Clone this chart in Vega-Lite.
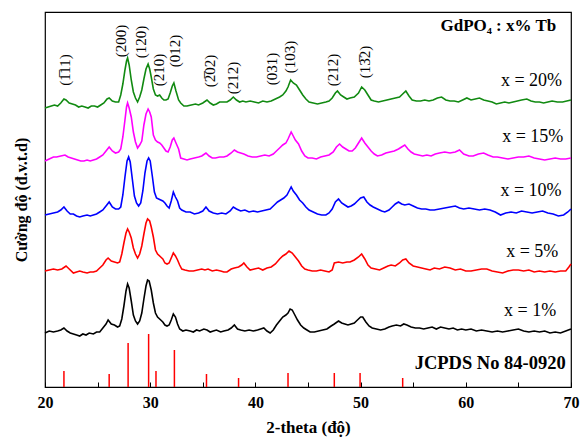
{
"$schema": "https://vega.github.io/schema/vega-lite/v6.json",
"width": 526, "height": 375,
"autosize": "none",
"padding": {"left": 45, "top": 12, "right": 9, "bottom": 50},
"background": "white",
"config": {"view": {"stroke": "black", "strokeWidth": 1.2}, "text": {"font": "Liberation Serif", "color": "black"}},
"datasets": {
"s20": [{"t":20.0,"y":279},{"t":20.3,"y":280},{"t":20.6,"y":281},{"t":20.9,"y":282},{"t":21.2,"y":281},{"t":21.5,"y":284},{"t":21.8,"y":288},{"t":22.0,"y":287},{"t":22.3,"y":284},{"t":22.6,"y":283},{"t":22.9,"y":282},{"t":23.2,"y":280},{"t":23.5,"y":281},{"t":23.8,"y":280},{"t":24.1,"y":279},{"t":24.4,"y":281},{"t":24.7,"y":281},{"t":25.0,"y":280},{"t":25.3,"y":282},{"t":25.6,"y":284},{"t":25.9,"y":288},{"t":26.1,"y":289},{"t":26.4,"y":286},{"t":26.7,"y":285},{"t":27.0,"y":285},{"t":27.2,"y":292},{"t":27.4,"y":303},{"t":27.6,"y":317},{"t":27.75,"y":326},{"t":27.85,"y":329},{"t":28.0,"y":322},{"t":28.2,"y":307},{"t":28.4,"y":295},{"t":28.6,"y":289},{"t":28.8,"y":285},{"t":29.0,"y":290},{"t":29.2,"y":297},{"t":29.4,"y":308},{"t":29.6,"y":318},{"t":29.8,"y":323},{"t":29.95,"y":318},{"t":30.1,"y":310},{"t":30.3,"y":298},{"t":30.5,"y":292},{"t":30.7,"y":291},{"t":30.9,"y":292},{"t":31.1,"y":289},{"t":31.3,"y":287},{"t":31.5,"y":287},{"t":31.7,"y":288},{"t":31.9,"y":294},{"t":32.1,"y":301},{"t":32.25,"y":304},{"t":32.45,"y":296},{"t":32.7,"y":287},{"t":32.9,"y":284},{"t":33.2,"y":281},{"t":33.5,"y":281},{"t":33.9,"y":282},{"t":34.3,"y":283},{"t":34.6,"y":282},{"t":35.0,"y":284},{"t":35.4,"y":287},{"t":35.7,"y":284},{"t":36.0,"y":282},{"t":36.3,"y":283},{"t":36.6,"y":285},{"t":37.0,"y":285},{"t":37.3,"y":285},{"t":37.6,"y":287},{"t":37.9,"y":290},{"t":38.2,"y":287},{"t":38.5,"y":285},{"t":38.8,"y":286},{"t":39.1,"y":285},{"t":39.5,"y":286},{"t":39.9,"y":285},{"t":40.3,"y":284},{"t":40.7,"y":286},{"t":41.1,"y":285},{"t":41.5,"y":286},{"t":41.9,"y":288},{"t":42.3,"y":290},{"t":42.6,"y":292},{"t":42.9,"y":296},{"t":43.1,"y":300},{"t":43.35,"y":307},{"t":43.6,"y":304},{"t":43.9,"y":302},{"t":44.2,"y":297},{"t":44.5,"y":292},{"t":44.8,"y":288},{"t":45.1,"y":285},{"t":45.5,"y":284},{"t":45.9,"y":283},{"t":46.3,"y":284},{"t":46.7,"y":285},{"t":47.0,"y":286},{"t":47.3,"y":289},{"t":47.6,"y":294},{"t":47.8,"y":296},{"t":48.1,"y":292},{"t":48.4,"y":290},{"t":48.7,"y":288},{"t":49.0,"y":289},{"t":49.4,"y":290},{"t":49.8,"y":294},{"t":50.1,"y":300},{"t":50.4,"y":297},{"t":50.7,"y":292},{"t":51.0,"y":287},{"t":51.3,"y":286},{"t":51.7,"y":285},{"t":52.1,"y":286},{"t":52.5,"y":287},{"t":52.9,"y":288},{"t":53.3,"y":289},{"t":53.7,"y":290},{"t":54.0,"y":293},{"t":54.3,"y":296},{"t":54.6,"y":291},{"t":54.9,"y":287},{"t":55.3,"y":286},{"t":55.7,"y":286},{"t":56.1,"y":287},{"t":56.5,"y":286},{"t":56.9,"y":287},{"t":57.3,"y":289},{"t":57.7,"y":290},{"t":58.1,"y":287},{"t":58.5,"y":286},{"t":58.9,"y":286},{"t":59.3,"y":285},{"t":59.7,"y":287},{"t":60.1,"y":289},{"t":60.5,"y":287},{"t":60.9,"y":288},{"t":61.3,"y":289},{"t":61.7,"y":287},{"t":62.1,"y":286},{"t":62.5,"y":285},{"t":62.9,"y":283},{"t":63.3,"y":284},{"t":63.7,"y":285},{"t":64.1,"y":284},{"t":64.5,"y":285},{"t":64.9,"y":286},{"t":65.3,"y":287},{"t":65.8,"y":288},{"t":66.2,"y":286},{"t":66.6,"y":285},{"t":67.0,"y":285},{"t":67.4,"y":284},{"t":67.8,"y":285},{"t":68.2,"y":286},{"t":68.7,"y":285},{"t":69.2,"y":285},{"t":69.6,"y":286},{"t":70.0,"y":287}],
"s15": [{"t":20.0,"y":226},{"t":20.4,"y":228},{"t":20.8,"y":230},{"t":21.1,"y":230},{"t":21.5,"y":231},{"t":21.9,"y":232},{"t":22.2,"y":230},{"t":22.5,"y":229},{"t":22.8,"y":228},{"t":23.1,"y":227},{"t":23.4,"y":226},{"t":23.7,"y":226},{"t":24.0,"y":227},{"t":24.3,"y":226},{"t":24.6,"y":227},{"t":24.9,"y":228},{"t":25.2,"y":230},{"t":25.5,"y":232},{"t":25.8,"y":236},{"t":26.1,"y":240},{"t":26.4,"y":236},{"t":26.7,"y":234},{"t":27.0,"y":235},{"t":27.2,"y":238},{"t":27.4,"y":250},{"t":27.6,"y":267},{"t":27.75,"y":280},{"t":27.85,"y":284},{"t":28.0,"y":279},{"t":28.2,"y":270},{"t":28.4,"y":255},{"t":28.6,"y":245},{"t":28.8,"y":239},{"t":29.0,"y":242},{"t":29.2,"y":246},{"t":29.4,"y":262},{"t":29.6,"y":273},{"t":29.8,"y":278},{"t":29.95,"y":275},{"t":30.1,"y":270},{"t":30.3,"y":252},{"t":30.5,"y":247},{"t":30.7,"y":245},{"t":30.9,"y":244},{"t":31.1,"y":242},{"t":31.3,"y":239},{"t":31.5,"y":236},{"t":31.7,"y":235},{"t":31.9,"y":240},{"t":32.1,"y":247},{"t":32.25,"y":249},{"t":32.45,"y":244},{"t":32.7,"y":238},{"t":32.9,"y":229},{"t":33.2,"y":228},{"t":33.5,"y":227},{"t":33.8,"y":228},{"t":34.2,"y":229},{"t":34.6,"y":230},{"t":34.9,"y":231},{"t":35.3,"y":234},{"t":35.6,"y":231},{"t":35.9,"y":229},{"t":36.2,"y":229},{"t":36.6,"y":230},{"t":37.0,"y":230},{"t":37.3,"y":231},{"t":37.7,"y":234},{"t":38.0,"y":237},{"t":38.3,"y":235},{"t":38.6,"y":234},{"t":38.9,"y":233},{"t":39.3,"y":231},{"t":39.7,"y":230},{"t":40.1,"y":230},{"t":40.5,"y":231},{"t":40.9,"y":232},{"t":41.3,"y":231},{"t":41.7,"y":233},{"t":42.0,"y":236},{"t":42.3,"y":239},{"t":42.6,"y":242},{"t":42.9,"y":244},{"t":43.1,"y":248},{"t":43.4,"y":255},{"t":43.6,"y":251},{"t":43.8,"y":247},{"t":44.1,"y":243},{"t":44.4,"y":236},{"t":44.7,"y":231},{"t":45.0,"y":229},{"t":45.4,"y":229},{"t":45.8,"y":228},{"t":46.2,"y":230},{"t":46.6,"y":231},{"t":47.0,"y":232},{"t":47.4,"y":235},{"t":47.7,"y":240},{"t":48.0,"y":243},{"t":48.3,"y":240},{"t":48.6,"y":238},{"t":48.9,"y":236},{"t":49.2,"y":236},{"t":49.5,"y":239},{"t":49.8,"y":244},{"t":50.1,"y":249},{"t":50.4,"y":244},{"t":50.7,"y":240},{"t":51.0,"y":236},{"t":51.3,"y":233},{"t":51.6,"y":231},{"t":52.0,"y":232},{"t":52.4,"y":234},{"t":52.8,"y":235},{"t":53.2,"y":236},{"t":53.6,"y":238},{"t":53.9,"y":240},{"t":54.2,"y":242},{"t":54.5,"y":238},{"t":54.8,"y":235},{"t":55.1,"y":233},{"t":55.5,"y":232},{"t":55.9,"y":231},{"t":56.3,"y":232},{"t":56.7,"y":231},{"t":57.1,"y":233},{"t":57.5,"y":234},{"t":58.0,"y":235},{"t":58.5,"y":234},{"t":59.0,"y":235},{"t":59.4,"y":237},{"t":59.8,"y":233},{"t":60.3,"y":231},{"t":60.7,"y":231},{"t":61.2,"y":233},{"t":61.7,"y":234},{"t":62.1,"y":232},{"t":62.6,"y":230},{"t":63.0,"y":230},{"t":63.5,"y":229},{"t":64.0,"y":228},{"t":64.5,"y":229},{"t":65.0,"y":230},{"t":65.5,"y":230},{"t":66.0,"y":231},{"t":66.5,"y":229},{"t":67.0,"y":228},{"t":67.5,"y":227},{"t":68.0,"y":228},{"t":68.5,"y":229},{"t":69.0,"y":228},{"t":69.5,"y":228},{"t":70.0,"y":229}],
"s10": [{"t":20.0,"y":172},{"t":20.4,"y":173},{"t":20.8,"y":174},{"t":21.2,"y":175},{"t":21.5,"y":177},{"t":21.8,"y":180},{"t":22.1,"y":176},{"t":22.4,"y":173},{"t":22.7,"y":173},{"t":23.0,"y":171},{"t":23.3,"y":170},{"t":23.6,"y":171},{"t":24.0,"y":172},{"t":24.3,"y":171},{"t":24.6,"y":172},{"t":24.9,"y":173},{"t":25.2,"y":175},{"t":25.5,"y":177},{"t":25.8,"y":181},{"t":26.1,"y":185},{"t":26.4,"y":180},{"t":26.7,"y":178},{"t":27.0,"y":178},{"t":27.2,"y":180},{"t":27.4,"y":192},{"t":27.6,"y":210},{"t":27.8,"y":226},{"t":27.95,"y":230},{"t":28.1,"y":225},{"t":28.3,"y":208},{"t":28.5,"y":191},{"t":28.7,"y":184},{"t":28.9,"y":181},{"t":29.1,"y":184},{"t":29.3,"y":196},{"t":29.5,"y":214},{"t":29.7,"y":226},{"t":29.85,"y":229},{"t":30.0,"y":226},{"t":30.2,"y":211},{"t":30.4,"y":195},{"t":30.6,"y":189},{"t":30.8,"y":188},{"t":31.0,"y":187},{"t":31.2,"y":186},{"t":31.4,"y":184},{"t":31.6,"y":181},{"t":31.8,"y":179},{"t":32.0,"y":186},{"t":32.2,"y":195},{"t":32.4,"y":190},{"t":32.6,"y":186},{"t":32.8,"y":179},{"t":33.0,"y":177},{"t":33.4,"y":175},{"t":33.8,"y":175},{"t":34.2,"y":173},{"t":34.6,"y":174},{"t":35.0,"y":176},{"t":35.3,"y":180},{"t":35.6,"y":176},{"t":36.0,"y":174},{"t":36.4,"y":173},{"t":36.8,"y":174},{"t":37.2,"y":173},{"t":37.6,"y":176},{"t":37.9,"y":180},{"t":38.2,"y":178},{"t":38.6,"y":176},{"t":39.0,"y":177},{"t":39.4,"y":175},{"t":39.8,"y":176},{"t":40.2,"y":175},{"t":40.6,"y":176},{"t":41.0,"y":177},{"t":41.4,"y":178},{"t":41.8,"y":182},{"t":42.1,"y":185},{"t":42.4,"y":187},{"t":42.7,"y":189},{"t":43.0,"y":192},{"t":43.2,"y":196},{"t":43.4,"y":200},{"t":43.6,"y":196},{"t":43.9,"y":192},{"t":44.2,"y":187},{"t":44.5,"y":184},{"t":44.8,"y":180},{"t":45.1,"y":177},{"t":45.5,"y":175},{"t":45.9,"y":173},{"t":46.3,"y":172},{"t":46.7,"y":172},{"t":47.0,"y":174},{"t":47.3,"y":178},{"t":47.6,"y":185},{"t":47.9,"y":188},{"t":48.2,"y":184},{"t":48.5,"y":182},{"t":48.8,"y":180},{"t":49.1,"y":181},{"t":49.4,"y":183},{"t":49.7,"y":186},{"t":50.0,"y":189},{"t":50.3,"y":190},{"t":50.6,"y":185},{"t":50.9,"y":182},{"t":51.2,"y":180},{"t":51.6,"y":178},{"t":52.0,"y":176},{"t":52.3,"y":175},{"t":52.7,"y":177},{"t":53.0,"y":180},{"t":53.3,"y":183},{"t":53.6,"y":185},{"t":53.9,"y":183},{"t":54.2,"y":182},{"t":54.6,"y":183},{"t":55.0,"y":181},{"t":55.4,"y":179},{"t":55.8,"y":178},{"t":56.2,"y":178},{"t":56.6,"y":177},{"t":57.0,"y":177},{"t":57.5,"y":178},{"t":58.0,"y":179},{"t":58.5,"y":180},{"t":59.0,"y":181},{"t":59.4,"y":179},{"t":59.8,"y":178},{"t":60.3,"y":179},{"t":60.8,"y":178},{"t":61.3,"y":177},{"t":61.8,"y":178},{"t":62.3,"y":177},{"t":62.8,"y":175},{"t":63.3,"y":172},{"t":63.8,"y":174},{"t":64.3,"y":175},{"t":64.8,"y":174},{"t":65.3,"y":176},{"t":65.8,"y":175},{"t":66.3,"y":174},{"t":66.8,"y":175},{"t":67.3,"y":176},{"t":67.8,"y":174},{"t":68.3,"y":173},{"t":68.8,"y":171},{"t":69.3,"y":172},{"t":69.7,"y":175},{"t":70.0,"y":178}],
"s5": [{"t":20.0,"y":116},{"t":20.4,"y":117},{"t":20.8,"y":118},{"t":21.2,"y":117},{"t":21.6,"y":118},{"t":22.0,"y":121},{"t":22.3,"y":118},{"t":22.7,"y":114},{"t":23.0,"y":115},{"t":23.3,"y":116},{"t":23.6,"y":115},{"t":24.0,"y":114},{"t":24.3,"y":115},{"t":24.6,"y":115},{"t":24.9,"y":116},{"t":25.2,"y":119},{"t":25.5,"y":122},{"t":25.8,"y":127},{"t":26.0,"y":129},{"t":26.3,"y":126},{"t":26.6,"y":125},{"t":26.9,"y":124},{"t":27.1,"y":125},{"t":27.3,"y":133},{"t":27.5,"y":144},{"t":27.7,"y":154},{"t":27.85,"y":158},{"t":28.0,"y":155},{"t":28.2,"y":149},{"t":28.4,"y":139},{"t":28.6,"y":133},{"t":28.8,"y":129},{"t":29.0,"y":133},{"t":29.2,"y":141},{"t":29.4,"y":153},{"t":29.6,"y":164},{"t":29.75,"y":168},{"t":29.95,"y":166},{"t":30.1,"y":160},{"t":30.3,"y":150},{"t":30.5,"y":137},{"t":30.7,"y":133},{"t":31.0,"y":130},{"t":31.2,"y":128},{"t":31.4,"y":124},{"t":31.6,"y":123},{"t":31.8,"y":124},{"t":32.0,"y":129},{"t":32.2,"y":134},{"t":32.4,"y":131},{"t":32.6,"y":127},{"t":32.8,"y":122},{"t":33.0,"y":118},{"t":33.3,"y":117},{"t":33.7,"y":116},{"t":34.1,"y":116},{"t":34.5,"y":117},{"t":34.9,"y":118},{"t":35.2,"y":117},{"t":35.5,"y":118},{"t":35.9,"y":116},{"t":36.3,"y":117},{"t":36.7,"y":116},{"t":37.0,"y":115},{"t":37.3,"y":115},{"t":37.7,"y":118},{"t":38.0,"y":119},{"t":38.4,"y":120},{"t":38.7,"y":122},{"t":38.9,"y":124},{"t":39.2,"y":120},{"t":39.5,"y":117},{"t":39.9,"y":118},{"t":40.3,"y":119},{"t":40.7,"y":117},{"t":41.1,"y":119},{"t":41.5,"y":120},{"t":41.9,"y":123},{"t":42.3,"y":128},{"t":42.6,"y":131},{"t":42.9,"y":133},{"t":43.2,"y":136},{"t":43.5,"y":134},{"t":43.8,"y":130},{"t":44.1,"y":126},{"t":44.4,"y":121},{"t":44.7,"y":118},{"t":45.0,"y":117},{"t":45.4,"y":116},{"t":45.8,"y":116},{"t":46.2,"y":117},{"t":46.6,"y":116},{"t":47.0,"y":115},{"t":47.3,"y":117},{"t":47.5,"y":124},{"t":47.9,"y":125},{"t":48.3,"y":124},{"t":48.7,"y":125},{"t":49.0,"y":125},{"t":49.4,"y":127},{"t":49.8,"y":130},{"t":50.1,"y":133},{"t":50.4,"y":128},{"t":50.7,"y":122},{"t":51.0,"y":119},{"t":51.4,"y":118},{"t":51.8,"y":117},{"t":52.2,"y":119},{"t":52.6,"y":121},{"t":52.9,"y":122},{"t":53.3,"y":121},{"t":53.7,"y":124},{"t":54.0,"y":127},{"t":54.3,"y":128},{"t":54.6,"y":124},{"t":55.0,"y":121},{"t":55.4,"y":120},{"t":55.8,"y":119},{"t":56.2,"y":118},{"t":56.6,"y":117},{"t":57.0,"y":119},{"t":57.5,"y":118},{"t":58.0,"y":120},{"t":58.5,"y":119},{"t":59.0,"y":117},{"t":59.5,"y":118},{"t":60.0,"y":116},{"t":60.5,"y":116},{"t":61.0,"y":117},{"t":61.5,"y":118},{"t":62.0,"y":118},{"t":62.5,"y":116},{"t":63.0,"y":115},{"t":63.5,"y":114},{"t":64.0,"y":116},{"t":64.5,"y":117},{"t":65.0,"y":117},{"t":65.5,"y":116},{"t":66.0,"y":117},{"t":66.5,"y":115},{"t":67.0,"y":116},{"t":67.5,"y":115},{"t":68.0,"y":116},{"t":68.5,"y":115},{"t":69.0,"y":116},{"t":69.5,"y":116},{"t":69.8,"y":120},{"t":70.0,"y":123}],
"s1": [{"t":20.0,"y":54},{"t":20.4,"y":56},{"t":20.8,"y":55},{"t":21.2,"y":56},{"t":21.5,"y":57},{"t":21.8,"y":59},{"t":22.1,"y":56},{"t":22.4,"y":54},{"t":22.7,"y":53},{"t":23.0,"y":52},{"t":23.3,"y":51},{"t":23.6,"y":53},{"t":23.9,"y":52},{"t":24.2,"y":54},{"t":24.6,"y":53},{"t":24.9,"y":55},{"t":25.2,"y":55},{"t":25.5,"y":59},{"t":25.8,"y":63},{"t":26.0,"y":67},{"t":26.3,"y":63},{"t":26.6,"y":62},{"t":26.9,"y":60},{"t":27.1,"y":61},{"t":27.3,"y":68},{"t":27.5,"y":81},{"t":27.7,"y":96},{"t":27.85,"y":103},{"t":28.0,"y":99},{"t":28.2,"y":86},{"t":28.4,"y":72},{"t":28.6,"y":66},{"t":28.8,"y":63},{"t":29.0,"y":66},{"t":29.2,"y":74},{"t":29.4,"y":88},{"t":29.6,"y":101},{"t":29.75,"y":107},{"t":29.9,"y":106},{"t":30.1,"y":97},{"t":30.3,"y":84},{"t":30.5,"y":74},{"t":30.7,"y":70},{"t":31.0,"y":67},{"t":31.2,"y":65},{"t":31.4,"y":62},{"t":31.6,"y":61},{"t":31.8,"y":62},{"t":32.0,"y":67},{"t":32.2,"y":73},{"t":32.4,"y":70},{"t":32.6,"y":63},{"t":32.8,"y":58},{"t":33.1,"y":56},{"t":33.4,"y":57},{"t":33.8,"y":56},{"t":34.1,"y":55},{"t":34.4,"y":57},{"t":34.7,"y":56},{"t":35.1,"y":58},{"t":35.4,"y":57},{"t":35.7,"y":55},{"t":36.0,"y":56},{"t":36.3,"y":57},{"t":36.7,"y":55},{"t":37.0,"y":56},{"t":37.4,"y":57},{"t":37.7,"y":59},{"t":38.0,"y":62},{"t":38.3,"y":58},{"t":38.6,"y":57},{"t":39.0,"y":56},{"t":39.4,"y":57},{"t":39.8,"y":56},{"t":40.2,"y":57},{"t":40.5,"y":58},{"t":40.8,"y":59},{"t":41.1,"y":56},{"t":41.4,"y":54},{"t":41.7,"y":57},{"t":42.0,"y":62},{"t":42.3,"y":66},{"t":42.6,"y":70},{"t":42.9,"y":72},{"t":43.1,"y":74},{"t":43.3,"y":78},{"t":43.5,"y":77},{"t":43.7,"y":73},{"t":44.0,"y":67},{"t":44.3,"y":62},{"t":44.6,"y":59},{"t":44.9,"y":57},{"t":45.2,"y":55},{"t":45.6,"y":55},{"t":46.0,"y":56},{"t":46.4,"y":57},{"t":46.8,"y":58},{"t":47.2,"y":61},{"t":47.5,"y":63},{"t":47.9,"y":66},{"t":48.2,"y":64},{"t":48.5,"y":63},{"t":48.8,"y":62},{"t":49.1,"y":63},{"t":49.4,"y":64},{"t":49.7,"y":67},{"t":50.0,"y":70},{"t":50.2,"y":70},{"t":50.5,"y":65},{"t":50.8,"y":61},{"t":51.1,"y":59},{"t":51.5,"y":58},{"t":51.9,"y":57},{"t":52.3,"y":58},{"t":52.7,"y":60},{"t":53.0,"y":61},{"t":53.4,"y":62},{"t":53.8,"y":61},{"t":54.1,"y":63},{"t":54.4,"y":62},{"t":54.8,"y":60},{"t":55.2,"y":59},{"t":55.6,"y":59},{"t":56.0,"y":58},{"t":56.4,"y":59},{"t":56.8,"y":60},{"t":57.2,"y":58},{"t":57.6,"y":60},{"t":58.0,"y":59},{"t":58.4,"y":58},{"t":58.8,"y":59},{"t":59.2,"y":57},{"t":59.6,"y":58},{"t":60.0,"y":57},{"t":60.5,"y":58},{"t":61.0,"y":56},{"t":61.5,"y":57},{"t":62.0,"y":56},{"t":62.5,"y":55},{"t":63.0,"y":56},{"t":63.5,"y":55},{"t":64.0,"y":56},{"t":64.5,"y":57},{"t":65.0,"y":58},{"t":65.5,"y":56},{"t":66.0,"y":55},{"t":66.5,"y":56},{"t":67.0,"y":55},{"t":67.5,"y":56},{"t":68.0,"y":54},{"t":68.5,"y":55},{"t":69.0,"y":54},{"t":69.5,"y":56},{"t":70.0,"y":58}],
"jcpds": [{"t":21.8,"y":16},{"t":26.1,"y":13},{"t":27.9,"y":44},{"t":29.85,"y":53},{"t":30.55,"y":16},{"t":32.3,"y":37},{"t":35.35,"y":13},{"t":38.4,"y":9},{"t":43.1,"y":14},{"t":47.5,"y":14},{"t":49.95,"y":14},{"t":54.0,"y":9}],
"hkl": [{"t":21.9,"y":317,"label":"(1̅11)"},{"t":27.2,"y":346,"label":"(200)"},{"t":29.1,"y":345,"label":"(120)"},{"t":30.85,"y":317,"label":"(210)"},{"t":32.36,"y":336,"label":"(012)"},{"t":35.7,"y":316,"label":"(2̅02)"},{"t":37.84,"y":309,"label":"(212)"},{"t":41.6,"y":318,"label":"(031)"},{"t":43.3,"y":330,"label":"(103)"},{"t":47.4,"y":317,"label":"(212)"},{"t":50.42,"y":325,"label":"(13̅2)"}],
"series": [{"t":69.15,"y":306,"label":"x = 20%"},{"t":69.27,"y":250,"label":"x = 15%"},{"t":69.1,"y":196,"label":"x = 10%"},{"t":68.8,"y":135,"label":"x = 5%"},{"t":68.6,"y":76,"label":"x = 1%"}],
"bold": [{"t":68.6,"y":361,"label":"GdPO₄ : x% Tb"}],
"jlabel": [{"t":69.5,"y":24,"label":"JCPDS No 84-0920"}]
},
"encoding": {
  "x": {"field": "t", "type": "quantitative", "scale": {"domain": [20, 70], "nice": false, "zero": false},
   "axis": {"values": [20,25,30,35,40,45,50,55,60,65,70], "labelExpr": "datum.value % 10 === 0 ? datum.label : ''",
    "tickSize": -5,
    "tickColor": "black", "domain": false, "grid": false, "labelFlush": false, "labelOverlap": false,
    "labelFont": "Liberation Serif", "labelFontWeight": "bold", "labelFontSize": 16, "labelColor": "black", "labelPadding": 12,
    "title": "2-theta (độ)", "titleFont": "Liberation Serif", "titleFontWeight": "bold", "titleFontSize": 17, "titleColor": "black", "titlePadding": 9}},
  "y": {"field": "y", "type": "quantitative", "scale": {"domain": [0, 375], "nice": false, "zero": false},
   "axis": {"ticks": false, "labels": false, "domain": false, "grid": false,
    "title": "Cường độ (đ.v.t.d)", "titleFont": "Liberation Serif", "titleFontWeight": "bold", "titleFontSize": 16, "titleColor": "black", "titlePadding": 16}}
},
"layer": [
{"data": {"name": "s20"}, "mark": {"type": "line", "color": "#118a11", "strokeWidth": 1.6}},
{"data": {"name": "s15"}, "mark": {"type": "line", "color": "#ff00ff", "strokeWidth": 1.6}},
{"data": {"name": "s10"}, "mark": {"type": "line", "color": "#0000ff", "strokeWidth": 1.6}},
{"data": {"name": "s5"}, "mark": {"type": "line", "color": "#ff0000", "strokeWidth": 1.6}},
{"data": {"name": "s1"}, "mark": {"type": "line", "color": "#000000", "strokeWidth": 1.6}},
{"data": {"name": "jcpds"}, "mark": {"type": "rule", "color": "#ff0000", "strokeWidth": 1.5},
 "encoding": {"y2": {"datum": 0}}},
{"data": {"name": "hkl"}, "mark": {"type": "text", "angle": 270, "align": "center", "baseline": "middle", "fontSize": 15, "font": "Liberation Serif", "color": "black"},
 "encoding": {"text": {"field": "label"}}},
{"data": {"name": "series"}, "mark": {"type": "text", "align": "right", "baseline": "middle", "fontSize": 18, "font": "Liberation Serif", "color": "black"},
 "encoding": {"text": {"field": "label"}}},
{"data": {"name": "bold"}, "mark": {"type": "text", "align": "right", "baseline": "middle", "fontSize": 17, "fontWeight": "bold", "font": "Liberation Serif", "color": "black"},
 "encoding": {"text": {"field": "label"}}},
{"data": {"name": "jlabel"}, "mark": {"type": "text", "align": "right", "baseline": "middle", "fontSize": 18.5, "fontWeight": "bold", "font": "Liberation Serif", "color": "black"},
 "encoding": {"text": {"field": "label"}}}
]
}
